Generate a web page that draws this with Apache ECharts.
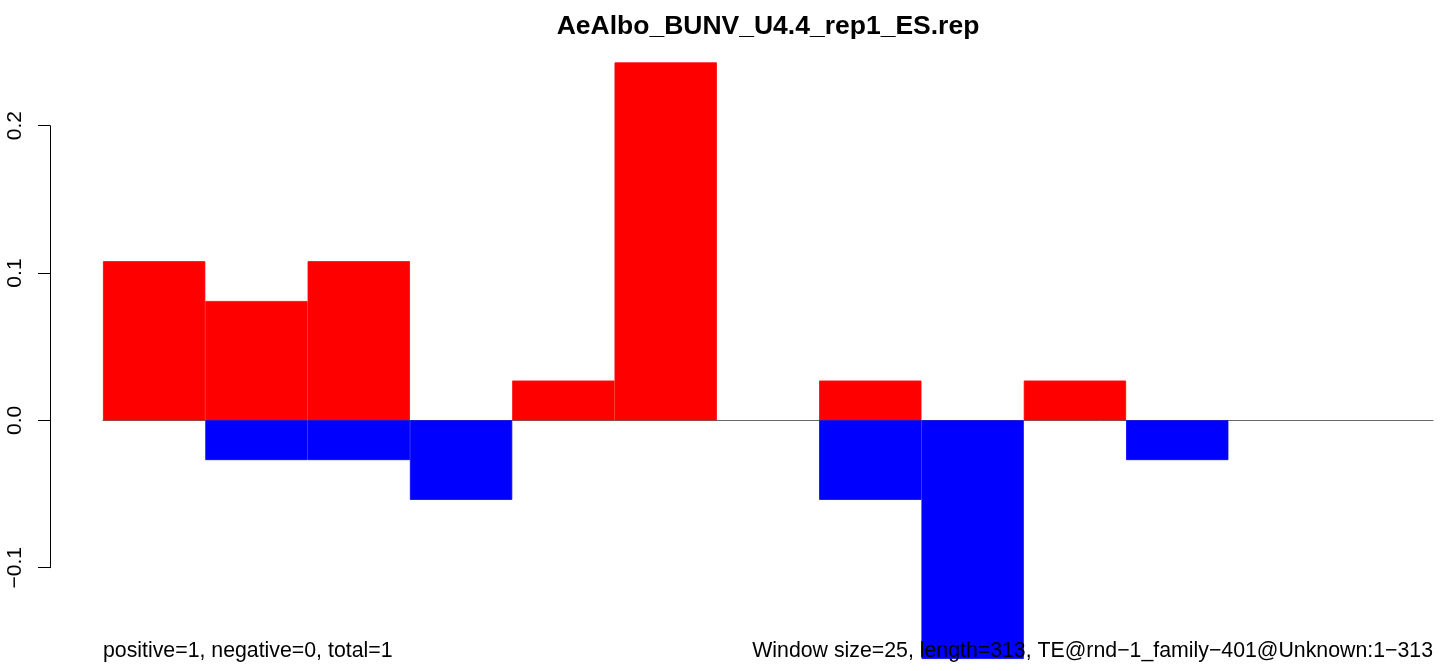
<!DOCTYPE html>
<html>
<head>
<meta charset="utf-8">
<script src="https://cdn.jsdelivr.net/npm/echarts@6/dist/echarts.min.js"></script>
<style>html,body{margin:0;padding:0;background:#fff;}#c{width:1449px;height:671px;}</style>
</head>
<body>
<div id="c"></div>
<script>
const titleText = "AeAlbo_BUNV_U4.4_rep1_ES.rep";
const leftNote = "positive=1, negative=0, total=1";
const rightNote = "Window size=25, length=313, TE@rnd\u22121_family\u2212401@Unknown:1\u2212313";
const categories = ["1","2","3","4","5","6","7","8","9","10","11","12","13"];
const positiveValues = [0.108, 0.081, 0.108, 0, 0.027, 0.243, 0, 0.027, 0, 0.027, 0, 0, 0];
const negativeValues = [0, -0.027, -0.027, -0.054, 0, 0, 0, -0.054, -0.162, 0, -0.027, 0, 0];
const yTicks = [-0.1, 0.0, 0.1, 0.2];

const font = "Liberation Sans";
const toBarData = arr => arr.map(v => (v === 0 ? null : v));
const chart = echarts.init(document.getElementById('c'), null, {renderer: 'canvas'});
chart.setOption({
  animation: false,
  backgroundColor: '#ffffff',
  grid: [
    {left: 103, right: 16, top: 62, bottom: 11.8},
    {left: 50, width: 1, top: 125.7, bottom: 103.3}
  ],
  xAxis: [
    {type: 'category', gridIndex: 0, data: categories, boundaryGap: true,
     axisLine: {show: true, onZero: true, lineStyle: {color: '#666666', width: 1}},
     axisTick: {show: false}, axisLabel: {show: false}, splitLine: {show: false}},
    {type: 'value', gridIndex: 1, show: false, min: 0, max: 1}
  ],
  yAxis: [
    {type: 'value', gridIndex: 0, min: -0.16216, max: 0.24324, show: false, splitLine: {show: false}},
    {type: 'value', gridIndex: 1, min: yTicks[0], max: yTicks[yTicks.length - 1], interval: 0.1,
     axisLine: {show: true, lineStyle: {color: '#000', width: 1}},
     axisTick: {show: true, length: 12, lineStyle: {color: '#000', width: 1}},
     splitLine: {show: false},
     axisLabel: {show: true, rotate: 90, margin: 24, color: '#000', fontFamily: font, fontSize: 21,
       formatter: v => v.toFixed(1).replace('-', '\u2212')}}
  ],
  series: [
    {type: 'bar', xAxisIndex: 0, yAxisIndex: 0, data: toBarData(positiveValues), barWidth: '100%', barGap: '-100%',
     itemStyle: {color: '#ff0000', borderColor: '#ff0000', borderWidth: 0.8}, silent: true},
    {type: 'bar', xAxisIndex: 0, yAxisIndex: 0, data: toBarData(negativeValues), barWidth: '100%', barGap: '-100%',
     itemStyle: {color: '#0000ff', borderColor: '#0000ff', borderWidth: 0.8}, silent: true}
  ],
  graphic: [
    {type: 'text', x: 768, y: 27, z: 100,
     style: {text: titleText, font: 'bold 26.5px "Liberation Sans"', fill: '#000', textAlign: 'center', textVerticalAlign: 'middle'}},
    {type: 'text', x: 103, y: 651, z: 100,
     style: {text: leftNote, font: '21.3px "Liberation Sans"', fill: '#000', textAlign: 'left', textVerticalAlign: 'middle'}},
    {type: 'text', x: 1433, y: 651, z: 100,
     style: {text: rightNote, font: '21.3px "Liberation Sans"', fill: '#000', textAlign: 'right', textVerticalAlign: 'middle'}}
  ]
});
</script>
</body>
</html>
